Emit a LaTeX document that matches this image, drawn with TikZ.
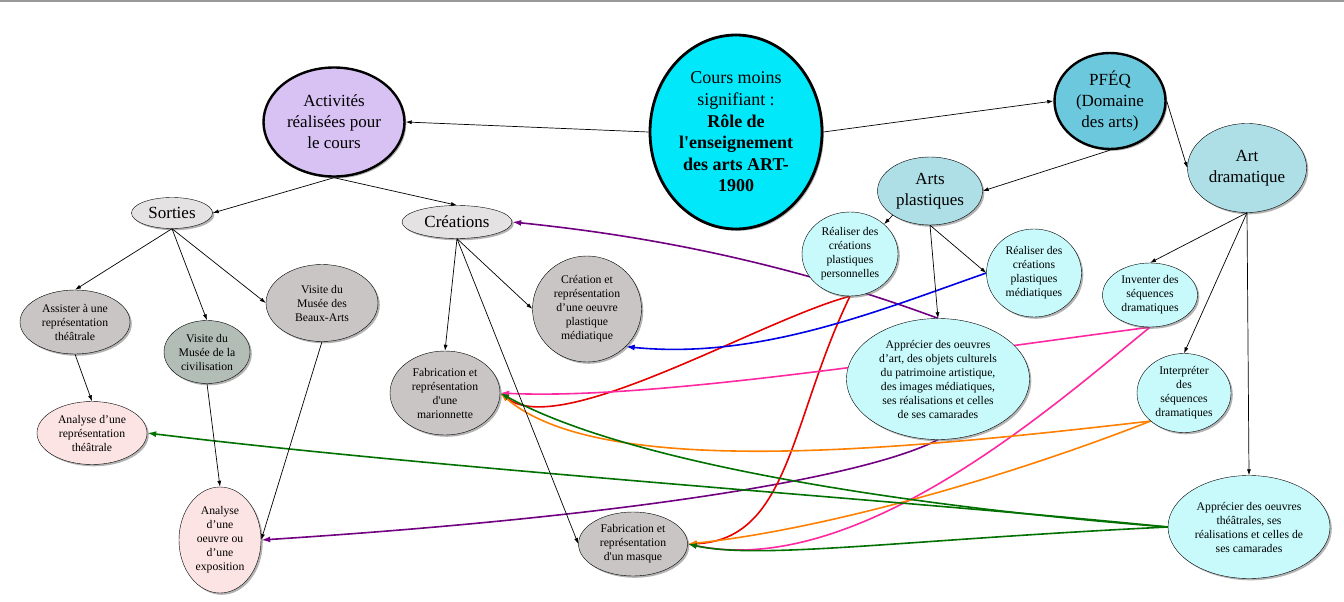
\documentclass[tikz,border=0pt]{standalone}
\usepackage{fontspec}
\setmainfont{Liberation Serif}
\usetikzlibrary{shapes.geometric,shadows,arrows.meta,backgrounds}

\begin{document}
\begin{tikzpicture}[x=1pt,y=-1pt]
            \definecolor{cyanvif}{RGB}{0,232,250}
            \definecolor{lavande}{RGB}{216,194,244}
            \definecolor{bleupfeq}{RGB}{108,200,220}
            \definecolor{bleupale}{RGB}{174,223,230}
            \definecolor{cyanpale}{RGB}{200,250,252}
            \definecolor{grismoyen}{RGB}{201,197,197}
            \definecolor{grisvert}{RGB}{178,189,182}
            \definecolor{grisclair}{RGB}{228,226,226}
            \definecolor{rosepale}{RGB}{253,228,228}
            \definecolor{violet}{RGB}{112,0,128}
            \definecolor{rouge}{RGB}{230,0,0}
            \definecolor{bleuvif}{RGB}{0,0,230}
            \definecolor{rosevif}{RGB}{255,40,160}
            \definecolor{orange}{RGB}{255,128,0}
            \definecolor{vert}{RGB}{0,112,0}
            \tikzstyle{bulle} = [ellipse, draw=black, inner sep=0pt,
            drop shadow={shadow xshift=1.8pt, shadow yshift=-1.8pt, fill=black!60}]
            \tikzstyle{petit} = [font=\fontsize{11.7}{14}\selectfont, align=center]
            \tikzstyle{grand} = [font=\fontsize{17}{21}\selectfont, align=center]
            \tikzstyle{arrow} = [line width=0.7pt, -{Latex[length=6pt,width=4pt]}]
            \tikzstyle{lien} = [line width=1.6pt, -{Latex[length=9pt,width=6pt]}]
            \useasboundingbox (0,0) rectangle (1344,602);
            \draw [black!40, line width=2pt] (0,1) -- (1344,1);

            \node (cours)[bulle, fill=cyanvif, line width=2.8pt, minimum width=172pt, minimum height=194pt,
                label={[grand, font=\fontsize{18}{21.6}\selectfont]center:{Cours moins\\signifiant :\\\textbf{Rôle de}\\\textbf{l\textquotesingle enseignement}\\\textbf{des arts ART-}\\\textbf{1900}}}] at (736,132) {};
            \node (activites)[bulle, fill=lavande, line width=2.4pt, minimum width=141pt, minimum height=109pt,
                label={[grand]center:{Activités\\réalisées pour\\le cours}}] at (334,122) {};
            \node (pfeq)[bulle, fill=bleupfeq, line width=2.4pt, minimum width=111pt, minimum height=96pt,
                label={[grand]center:{PFÉQ\\(Domaine\\des arts)}}] at (1110,101) {};
            \node (artsplast)[bulle, fill=bleupale, minimum width=105pt, minimum height=68pt,
                label={[grand]center:{Arts\\plastiques}}] at (930,191) {};
            \node (artdram)[bulle, fill=bleupale, minimum width=119pt, minimum height=89pt,
                label={[grand]center:{Art\\dramatique}}] at (1247,168) {};
            \node (sorties)[bulle, fill=grisclair, minimum width=81pt, minimum height=31pt,
                label={[grand]center:{Sorties}}] at (172,213) {};
            \node (creations)[bulle, fill=grisclair, minimum width=110pt, minimum height=33pt,
                label={[grand]center:{Créations}}] at (457,222) {};

            \node (assister)[bulle, fill=grismoyen, minimum width=110pt, minimum height=64pt,
                label={[petit]center:{Assister à une\\représentation\\théâtrale}}] at (75,322) {};
            \node (visciv)[bulle, fill=grisvert, minimum width=86pt, minimum height=63pt,
                label={[petit]center:{Visite du\\Musée de la\\civilisation}}] at (207,352) {};
            \node (visba)[bulle, fill=grismoyen, minimum width=112pt, minimum height=77pt,
                label={[petit]center:{Visite du\\Musée des\\Beaux-Arts}}] at (322,303) {};
            \node (anarep)[bulle, fill=rosepale, minimum width=110pt, minimum height=63pt,
                label={[petit]center:{Analyse d’une\\représentation\\théâtrale}}] at (92,433) {};
            \node (anaoeuv)[bulle, fill=rosepale, minimum width=82pt, minimum height=106pt,
                label={[petit]center:{Analyse\\d’une\\oeuvre ou\\d’une\\exposition}}] at (220,540) {};
            \node (mario)[bulle, fill=grismoyen, minimum width=110pt, minimum height=84pt,
                label={[petit]center:{Fabrication et\\représentation\\d\textquotesingle une\\marionnette}}] at (445,393) {};
            \node (creaoeuv)[bulle, fill=grismoyen, minimum width=109pt, minimum height=106pt,
                label={[petit]center:{Création et\\représentation\\d’une oeuvre\\plastique\\médiatique}}] at (587,309) {};
            \node (masque)[bulle, fill=grismoyen, minimum width=109pt, minimum height=64pt,
                label={[petit]center:{Fabrication et\\représentation\\d\textquotesingle un masque}}] at (633,544) {};

            \node (realpers)[bulle, fill=cyanpale, minimum width=96pt, minimum height=84pt,
                label={[petit]center:{Réaliser des\\créations\\plastiques\\personnelles}}] at (850,254) {};
            \node (realmed)[bulle, fill=cyanpale, minimum width=95pt, minimum height=88pt,
                label={[petit]center:{Réaliser des\\créations\\plastiques\\médiatiques}}] at (1034,273) {};
            \node (appart)[bulle, fill=cyanpale, minimum width=183pt, minimum height=121pt,
                label={[petit]center:{Apprécier des oeuvres\\d’art, des objets culturels\\du patrimoine artistique,\\des images médiatiques,\\ses réalisations et celles\\de ses camarades}}] at (938,379) {};
            \node (inventer)[bulle, fill=cyanpale, minimum width=95pt, minimum height=64pt,
                label={[petit]center:{Inventer des\\séquences\\dramatiques}}] at (1150,295) {};
            \node (interp)[bulle, fill=cyanpale, minimum width=94pt, minimum height=79pt,
                label={[petit]center:{Interpréter\\des\\séquences\\dramatiques}}] at (1184,393) {};
            \node (apptheat)[bulle, fill=cyanpale, minimum width=162pt, minimum height=103pt,
                label={[petit]center:{Apprécier des oeuvres\\théâtrales, ses\\réalisations et celles de\\ses camarades}}] at (1249,527) {};

            \draw [arrow] (cours.west) -- (activites.east);
            \draw [arrow] (cours.east) -- (pfeq.west);
            \draw [arrow] (activites.south) -- (sorties.east);
            \draw [arrow] (activites.south) -- (creations.north);
            \draw [arrow] (pfeq.south) -- (artsplast.east);
            \draw [arrow] (pfeq.east) -- (artdram.west);
            \draw [arrow] (artsplast.south west) -- (realpers.north east);
            \draw [arrow] (artsplast.south) -- (appart.north);
            \draw [arrow] (artsplast.south) -- (realmed.west);
            \draw [arrow] (artdram.south) -- (inventer.north);
            \draw [arrow] (artdram.south) -- (interp.north);
            \draw [arrow] (artdram.south) -- (apptheat.north);
            \draw [arrow] (sorties.south) -- (assister.north);
            \draw [arrow] (sorties.south) -- (visciv.north);
            \draw [arrow] (sorties.south) -- (visba.west);
            \draw [arrow] (assister.south) -- (anarep.north);
            \draw [arrow] (visciv.south) -- (anaoeuv.north);
            \draw [arrow] (visba.south) -- (anaoeuv.east);
            \draw [arrow] (creations.south) -- (mario.north);
            \draw [arrow] (creations.south) -- (creaoeuv.west);
            \draw [arrow] (creations.south) -- (masque.west);

            % liens entre competences et activites
            \begin{scope}[on background layer]
            \draw [lien, violet] (appart.north) .. controls (780,260) and (640,235) .. (creations.east);
            \draw [lien, violet] (appart.south) .. controls (870,475) and (650,515) .. (anaoeuv.east);
            \draw [lien, rouge] (realpers.south) .. controls (760,320) and (560,440) .. (mario.east);
            \draw [lien, rouge] (realpers.south) .. controls (790,420) and (790,540) .. (masque.east);
            \draw [lien, bleuvif] (realmed.west) .. controls (880,310) and (760,360) .. (creaoeuv.south east);
            \draw [lien, rosevif] (inventer.south) .. controls (900,360) and (650,400) .. (mario.east);
            \draw [lien, rosevif] (inventer.south) .. controls (1060,400) and (860,580) .. (masque.east);
            \draw [lien, orange] (interp.south west) .. controls (900,450) and (600,480) .. (mario.east);
            \draw [lien, orange] (interp.south west) .. controls (1000,480) and (820,530) .. (masque.east);
            \draw [lien, vert] (apptheat.west) .. controls (950,510) and (640,470) .. (mario.east);
            \draw [lien, vert] (apptheat.west) .. controls (900,500) and (450,470) .. (anarep.east);
            \draw [lien, vert] (apptheat.west) .. controls (900,540) and (760,560) .. (masque.east);
            \end{scope}
        \end{tikzpicture}
\end{document}
